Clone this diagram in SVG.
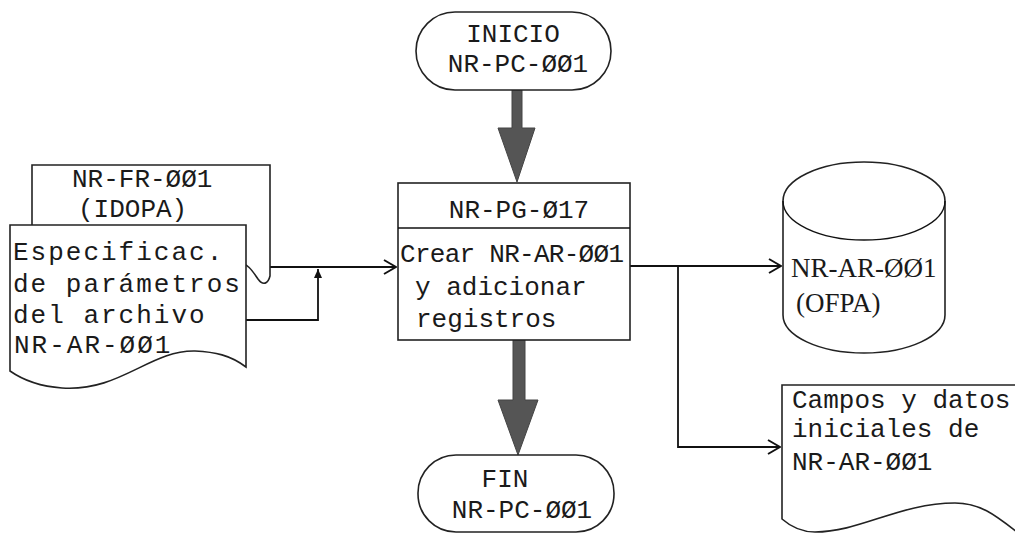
<svg xmlns="http://www.w3.org/2000/svg" width="1015" height="534" viewBox="0 0 1015 534">
<style>
.sh{fill:#fff;stroke:#222;stroke-width:1.6}
.ln{fill:none;stroke:#111;stroke-width:1.8}
.t{font-family:"Liberation Mono","DejaVu Sans Mono",monospace;font-size:26px;fill:#1a1a1a}
.w{letter-spacing:2px}
.s{font-family:"Liberation Serif","DejaVu Serif",serif;font-size:27px;fill:#1a1a1a}
.big{fill:#555;stroke:#444;stroke-width:1}
</style>
<defs>
<marker id="open" markerWidth="14" markerHeight="16" refX="13" refY="8" orient="auto" markerUnits="userSpaceOnUse">
<path d="M1,1 L13,8 L1,15" fill="none" stroke="#111" stroke-width="2"/>
</marker>
<marker id="tick" markerWidth="12" markerHeight="12" refX="6" refY="1" orient="0" markerUnits="userSpaceOnUse">
<path d="M2,10 L6,1 L10,10 Z" fill="#111"/>
</marker>
</defs>

<g id="connectors">
<path class="ln" d="M270,267 H396" marker-end="url(#open)"/>
<path class="ln" d="M245,320 H318 V269" marker-end="url(#tick)"/>
<path class="ln" d="M630,266 H781" marker-end="url(#open)"/>
<path class="ln" d="M678,266 V447 H780" marker-end="url(#open)"/>
<path class="big" d="M512,90 H522 V128 H535 L517,182 L498,128 H512 Z"/>
<path class="big" d="M513,340 H525 V400 H538 L518,455 L498,400 H513 Z"/>
</g>

<g id="inicio">
<rect class="sh" x="416" y="12" width="195" height="78" rx="39" ry="39"/>
<text class="t" x="513" y="42" text-anchor="middle">INICIO</text>
<text class="t" x="518" y="72" text-anchor="middle">NR-PC-ØØ1</text>
</g>

<g id="proceso">
<rect class="sh" x="398" y="183" width="232" height="157"/>
<line class="ln" x1="398" y1="228" x2="630" y2="228" style="stroke-width:1.4"/>
<text class="t" x="519" y="218" text-anchor="middle">NR-PG-Ø17</text>
<text class="t" x="400" y="262" textLength="224" lengthAdjust="spacing">Crear NR-AR-ØØ1</text>
<text class="t" x="415" y="295">y adicionar</text>
<text class="t" x="416" y="327">registros</text>
</g>

<g id="fin">
<rect class="sh" x="418" y="455" width="196" height="77" rx="38" ry="38"/>
<text class="t" x="505" y="487" text-anchor="middle">FIN</text>
<text class="t" x="522" y="518" text-anchor="middle">NR-PC-ØØ1</text>
</g>

<g id="formulario">
<path class="sh" d="M32,165 H270 V276 C268,284 263,286 258,279 C252,270 247,263 238,262 C180,262 100,300 32,290 Z"/>
<text class="t" x="72" y="187">NR-FR-ØØ1</text>
<text class="t" x="78" y="217">(IDOPA)</text>
</g>

<g id="especificacion">
<path class="sh" d="M10,225 H246 V367 C230,355 215,352 195,351 C150,350 120,392 62,388 C35,386 20,378 10,371 Z"/>
<text class="t w" x="13" y="260">Especificac.</text>
<text class="t w" x="13" y="292">de parámetros</text>
<text class="t w" x="13" y="323">del archivo</text>
<text class="t w" x="14" y="353">NR-AR-ØØ1</text>
</g>

<g id="archivo">
<path class="sh" d="M783,201 V315 A81,38 0 0 0 945,315 V201 A81,39 0 0 0 783,201 Z"/>
<path class="ln" d="M783,201 A81,39 0 0 0 945,201" style="stroke-width:1.4"/>
<text class="s" x="791" y="277">NR-AR-ØØ1</text>
<text class="s" x="796" y="312">(OFPA)</text>
</g>

<g id="salida">
<path class="sh" d="M782,385 H1017 V532 C995,515 980,503 955,503 C900,503 860,532 815,532 C800,532 790,526 782,519 Z"/>
<text class="t" x="792" y="408">Campos y datos</text>
<text class="t" x="792" y="437">iniciales de</text>
<text class="t" x="792" y="470">NR-AR-ØØ1</text>
</g>
</svg>
